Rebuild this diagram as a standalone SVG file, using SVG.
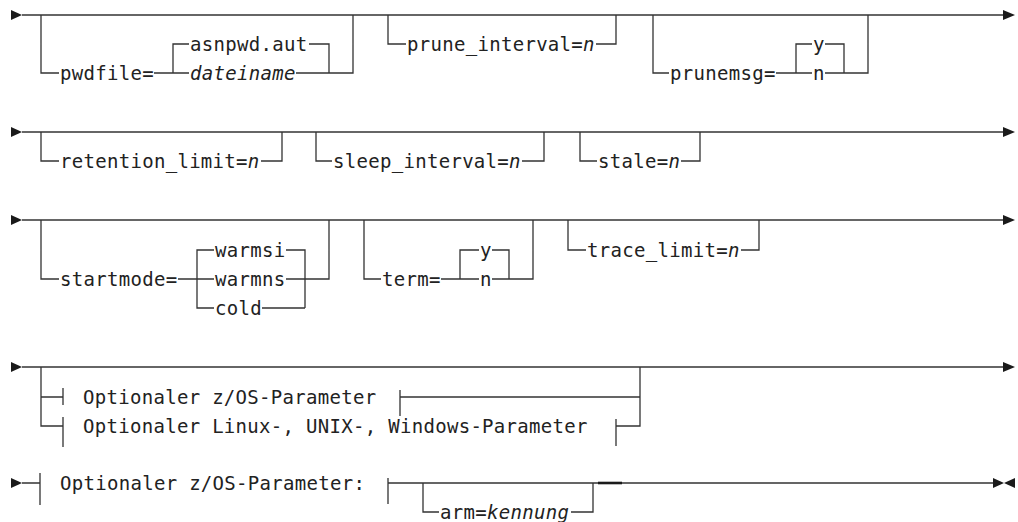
<svg xmlns="http://www.w3.org/2000/svg" width="1018" height="522" viewBox="0 0 1018 522">
<defs>
<style>
.ln{fill:none;stroke:#333;stroke-width:1.3}
.thick{fill:none;stroke:#1a1a1a;stroke-width:2.6}
.ar{fill:#1a1a1a}
text{font-family:"DejaVu Sans Mono","Liberation Mono",monospace;font-size:19px;letter-spacing:0.3px;fill:#222}
.it{font-style:italic}
</style>
</defs>
<rect width="1018" height="522" fill="#fff"/>
<g id="connectors">
<!-- row 1 -->
<polygon class="ar" points="11,10 22,15 11,20"/>
<path class="ln" d="M22,15 H1003"/>
<polygon class="ar" points="1003,10 1015,15 1003,20"/>
<path class="ln" d="M41,15 V73 H59 M154,73 H189 M189,44 H173 V73 M296,73 H353 V15 M309,44 H329 V73"/>
<path class="ln" d="M388,15 V44 H406 M596,44 H616 V15"/>
<path class="ln" d="M653,15 V73 H669 M776,73 H812 M812,44 H796 V73 M825,44 H844 V73 M825,73 H868 V15"/>
<!-- row 2 -->
<polygon class="ar" points="11,127 22,132 11,137"/>
<path class="ln" d="M22,132 H1003"/>
<polygon class="ar" points="1003,127 1015,132 1003,137"/>
<path class="ln" d="M41,132 V161 H59 M261,161 H282 V132"/>
<path class="ln" d="M316,132 V161 H332 M522,161 H544 V132"/>
<path class="ln" d="M580,132 V161 H597 M681,161 H700 V132"/>
<!-- row 3 -->
<polygon class="ar" points="11,215 22,220 11,225"/>
<path class="ln" d="M22,220 H1003"/>
<polygon class="ar" points="1003,215 1015,220 1003,225"/>
<path class="ln" d="M41,220 V279 H59 M178,279 H214 M214,250 H197 V308 H214 M286,250 H305 V308 M286,279 H329 V220 M262,308 H305"/>
<path class="ln" d="M364,220 V279 H381 M441,279 H479 M479,250 H460 V279 M492,250 H509 V279 M492,279 H533 V220"/>
<path class="ln" d="M568,220 V250 H586 M741,250 H759 V220"/>
<!-- row 4 -->
<polygon class="ar" points="11,362 22,367 11,372"/>
<path class="ln" d="M22,367 H1003"/>
<polygon class="ar" points="1003,362 1015,367 1003,372"/>
<path class="ln" d="M41,367 V426 H63 M41,397 H63 M63,388 V405 M63,417 V447"/>
<path class="ln" d="M400,390 V416 M400,397 H640 M616,419 V446 M616,426 H640 V367"/>
<!-- row 5 -->
<polygon class="ar" points="11,478 22,483 11,488"/>
<path class="ln" d="M22,483 H40 M40,473 V505 M388,478 V504 M388,483 H993"/>
<path class="ln" d="M423,483 V512 H439 M571,512 H593 V483"/>
<path class="thick" d="M598,483 H622"/>
<polygon class="ar" points="993,478 1004,483 993,488"/>
<polygon class="ar" points="1015,478 1004,483 1015,488"/>
</g>
<g id="pwdfile"><text x="60" y="80">pwdfile=</text></g>
<g id="asnpwd"><text x="190" y="51">asnpwd.aut</text></g>
<g id="dateiname"><text x="190" y="80" class="it">dateiname</text></g>
<g id="prune_interval"><text x="407" y="51">prune_interval=<tspan class="it">n</tspan></text></g>
<g id="prunemsg"><text x="670" y="80">prunemsg=</text></g>
<g id="prunemsg_y"><text x="813" y="51">y</text></g>
<g id="prunemsg_n"><text x="813" y="80">n</text></g>
<g id="retention_limit"><text x="60" y="168">retention_limit=<tspan class="it">n</tspan></text></g>
<g id="sleep_interval"><text x="333" y="168">sleep_interval=<tspan class="it">n</tspan></text></g>
<g id="stale"><text x="598" y="168">stale=<tspan class="it">n</tspan></text></g>
<g id="startmode"><text x="60" y="286">startmode=</text></g>
<g id="warmsi"><text x="215" y="257">warmsi</text></g>
<g id="warmns"><text x="215" y="286">warmns</text></g>
<g id="cold"><text x="215" y="315">cold</text></g>
<g id="term"><text x="382" y="286">term=</text></g>
<g id="term_y"><text x="480" y="257">y</text></g>
<g id="term_n"><text x="480" y="286">n</text></g>
<g id="trace_limit"><text x="587" y="257">trace_limit=<tspan class="it">n</tspan></text></g>
<g id="zos_ref"><text x="83" y="404">Optionaler z/OS-Parameter</text></g>
<g id="luw_ref"><text x="83" y="433">Optionaler Linux-, UNIX-, Windows-Parameter</text></g>
<g id="zos_def"><text x="60" y="490">Optionaler z/OS-Parameter:</text></g>
<g id="arm"><text x="440" y="519">arm=<tspan class="it">kennung</tspan></text></g>
</svg>
